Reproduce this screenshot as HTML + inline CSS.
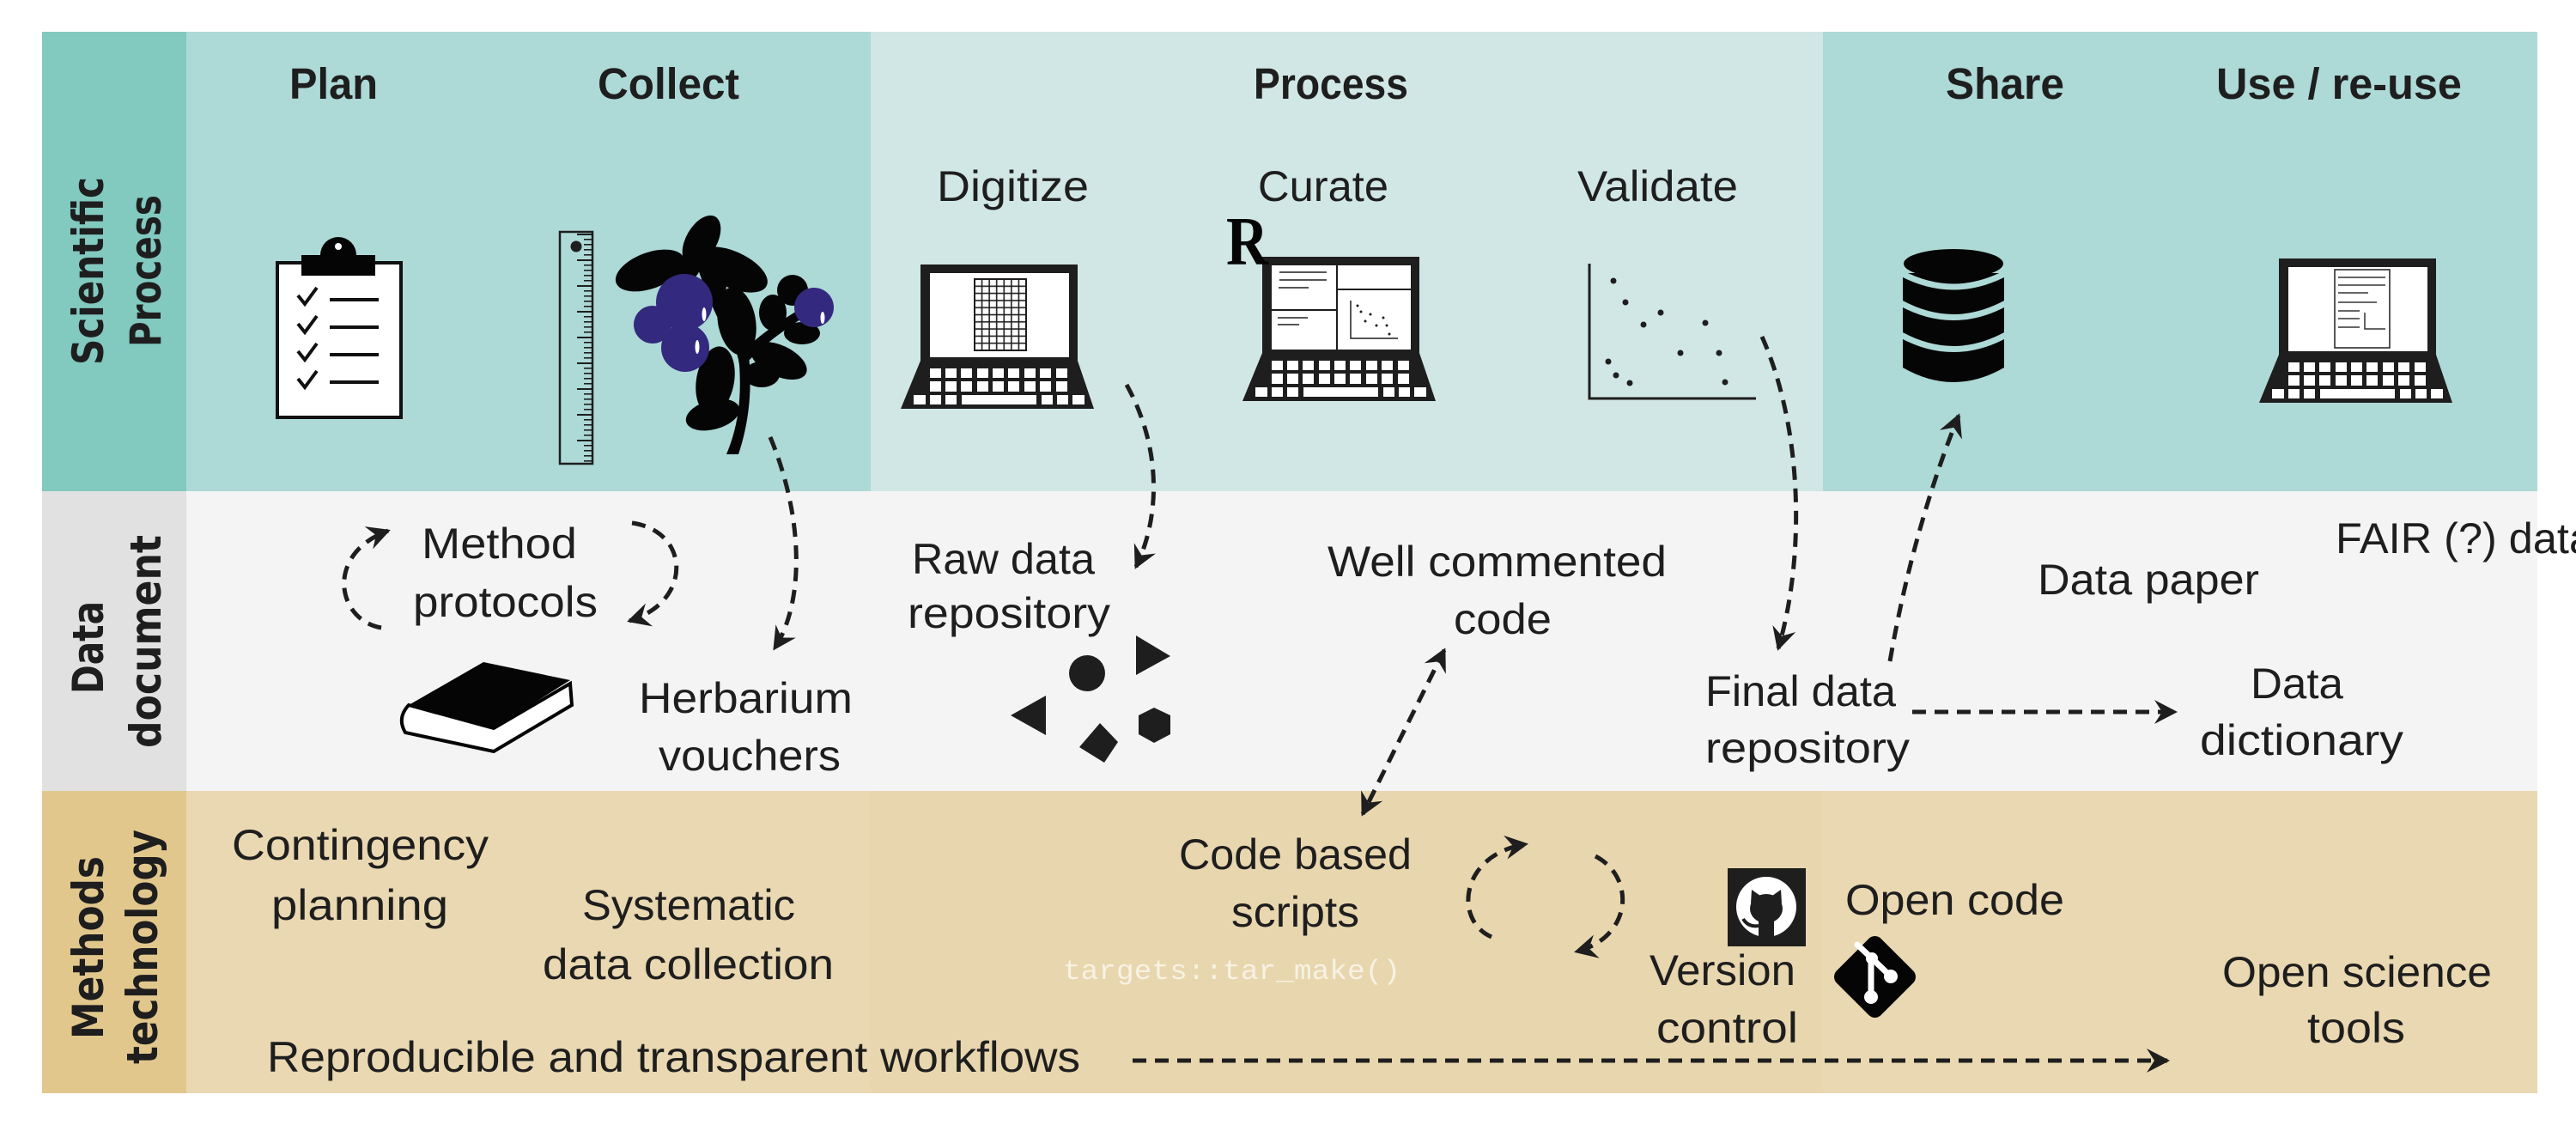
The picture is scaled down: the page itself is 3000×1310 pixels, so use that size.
<!DOCTYPE html>
<html><head><meta charset="utf-8"><style>
html,body{margin:0;padding:0;background:#fff;}
svg{display:block;}
text{font-family:"Liberation Sans",sans-serif;fill:#1e1e1e;}
.h{font-weight:bold;font-size:51px;}
.t{font-size:50px;}
.s{font-size:50px;}
.lab{font-family:"DejaVu Sans","Liberation Sans",sans-serif;font-weight:bold;font-size:50px;}
.d{fill:none;stroke:#1e1e1e;stroke-width:5;stroke-dasharray:16 10;}
</style></head><body>
<svg width="3000" height="1310" viewBox="0 0 3000 1310" xmlns="http://www.w3.org/2000/svg">
<defs>
<marker id="ah" viewBox="-26 -16 30 32" refX="0" refY="0" markerWidth="30" markerHeight="32" markerUnits="userSpaceOnUse" orient="auto-start-reverse">
<path d="M3,0 L-24,-14 L-15,0 L-24,14 Z" fill="#1e1e1e"/>
</marker>
<g id="lap">
<rect x="23" y="0" width="183" height="117" fill="#1e1e1e"/>
<polygon points="23,112 206,112 225,168 0,168" fill="#1e1e1e"/>
<rect x="34" y="10" width="162" height="98" fill="#fff"/>
<g fill="#fff">
<rect x="34" y="121" width="13" height="11"/><rect x="52" y="121" width="13" height="11"/><rect x="70" y="121" width="13" height="11"/><rect x="89" y="121" width="13" height="11"/><rect x="107" y="121" width="13" height="11"/><rect x="125" y="121" width="13" height="11"/><rect x="144" y="121" width="13" height="11"/><rect x="162" y="121" width="13" height="11"/><rect x="181" y="121" width="13" height="11"/>
<rect x="34" y="136" width="13" height="12"/><rect x="52" y="136" width="13" height="12"/><rect x="70" y="136" width="13" height="12"/><rect x="89" y="136" width="13" height="12"/><rect x="107" y="136" width="13" height="12"/><rect x="125" y="136" width="13" height="12"/><rect x="144" y="136" width="13" height="12"/><rect x="162" y="136" width="13" height="12"/><rect x="181" y="136" width="13" height="12"/>
<rect x="15" y="152" width="14" height="11"/><rect x="34" y="152" width="13" height="11"/><rect x="52" y="152" width="13" height="11"/><rect x="71" y="152" width="87" height="11"/><rect x="164" y="152" width="13" height="11"/><rect x="182" y="152" width="13" height="11"/><rect x="200" y="152" width="14" height="11"/>
</g>
</g>
<pattern id="grid" x="1135" y="325" width="8.57" height="8.3" patternUnits="userSpaceOnUse">
<rect x="0" y="0" width="8.57" height="8.3" fill="#fff" stroke="#1e1e1e" stroke-width="1.6"/>
</pattern>
<pattern id="tick" x="0" y="272" width="40" height="6" patternUnits="userSpaceOnUse">
<rect x="30" y="0" width="10" height="1.6" fill="#1e1e1e"/>
</pattern>
<pattern id="tick5" x="0" y="272" width="40" height="30" patternUnits="userSpaceOnUse">
<rect x="22" y="0" width="18" height="2" fill="#1e1e1e"/>
</pattern>
</defs>

<rect x="49" y="37" width="168" height="535" fill="#82c9c0"/>
<rect x="217" y="37" width="797" height="535" fill="#add9d6"/>
<rect x="1014" y="37" width="1109" height="535" fill="#d1e7e5"/>
<rect x="2123" y="37" width="832" height="535" fill="#add9d6"/>
<rect x="49" y="572" width="168" height="349" fill="#e1e1e1"/>
<rect x="217" y="572" width="2738" height="349" fill="#f4f4f4"/>
<rect x="49" y="921" width="168" height="352" fill="#e2c78d"/>
<rect x="217" y="921" width="797" height="352" fill="#e9d8b1"/>
<rect x="1014" y="921" width="1109" height="352" fill="#e8d6ae"/>
<rect x="2123" y="921" width="832" height="352" fill="#e9d8b1"/>

<text class="lab" transform="translate(120,425) rotate(-90)" textLength="219" lengthAdjust="spacingAndGlyphs">Scientific</text>
<text class="lab" transform="translate(187,404) rotate(-90)" textLength="177" lengthAdjust="spacingAndGlyphs">Process</text>
<text class="lab" transform="translate(120,808) rotate(-90)" textLength="108" lengthAdjust="spacingAndGlyphs">Data</text>
<text class="lab" transform="translate(187,871) rotate(-90)" textLength="248" lengthAdjust="spacingAndGlyphs">document</text>
<text class="lab" transform="translate(120,1210) rotate(-90)" textLength="213" lengthAdjust="spacingAndGlyphs">Methods</text>
<text class="lab" transform="translate(183,1239) rotate(-90)" textLength="273" lengthAdjust="spacingAndGlyphs">technology</text>

<text class="h" x="337" y="115" textLength="103" lengthAdjust="spacingAndGlyphs">Plan</text>
<text class="h" x="696" y="115" textLength="165" lengthAdjust="spacingAndGlyphs">Collect</text>
<text class="h" x="1460" y="115" textLength="180" lengthAdjust="spacingAndGlyphs">Process</text>
<text class="h" x="2266" y="115" textLength="138" lengthAdjust="spacingAndGlyphs">Share</text>
<text class="h" x="2581" y="115" textLength="286" lengthAdjust="spacingAndGlyphs">Use / re-use</text>
<text class="s" x="1091" y="234" textLength="177" lengthAdjust="spacingAndGlyphs">Digitize</text>
<text class="s" x="1465" y="234" textLength="152" lengthAdjust="spacingAndGlyphs">Curate</text>
<text class="s" x="1837" y="234" textLength="187" lengthAdjust="spacingAndGlyphs">Validate</text>

<rect x="323" y="306" width="144" height="180" fill="#fff" stroke="#111" stroke-width="4"/>
<circle cx="394" cy="297" r="21" fill="#050505"/>
<rect x="351" y="297" width="86" height="24" fill="#050505"/>
<circle cx="394" cy="287" r="4" fill="#fff"/>
<g fill="none" stroke="#111" stroke-width="4">
<polyline points="347,344 355,354 369,335"/><polyline points="347,377 355,387 369,368"/><polyline points="347,409 355,419 369,400"/><polyline points="347,441 355,451 369,432"/>
<line x1="384" y1="349" x2="441" y2="349"/><line x1="384" y1="381" x2="441" y2="381"/><line x1="384" y1="413" x2="441" y2="413"/><line x1="384" y1="445" x2="441" y2="445"/>
</g>

<rect x="652" y="270" width="38" height="270" fill="#add9d6" stroke="#1e1e1e" stroke-width="2.5"/>
<g transform="translate(650,0)"><rect x="0" y="272" width="40" height="266" fill="url(#tick)"/><rect x="0" y="272" width="40" height="266" fill="url(#tick5)"/></g>
<circle cx="671" cy="287" r="6.5" fill="#1e1e1e"/>

<g fill="#050505">
<path d="M846,529 C858,500 864,470 861,425 C858,400 843,387 832,362 C820,337 813,312 804,288 L814,284 C824,308 832,330 843,353 C854,376 872,398 873,425 C876,470 868,505 860,529 Z"/>
<path d="M864,410 C880,395 895,382 930,361 L935,370 C905,390 887,404 872,420 Z"/>
<ellipse cx="817" cy="280" rx="18" ry="32" transform="rotate(30 817 280)"/>
<ellipse cx="757" cy="315" rx="42" ry="21" transform="rotate(-20 757 315)"/>
<ellipse cx="791" cy="318" rx="24" ry="13" transform="rotate(-15 791 318)"/>
<ellipse cx="853" cy="314" rx="44" ry="21" transform="rotate(25 853 314)"/>
<ellipse cx="858" cy="374" rx="22" ry="40" transform="rotate(-10 858 374)"/>
<ellipse cx="833" cy="332" rx="13" ry="17"/>
<ellipse cx="923" cy="338" rx="18" ry="18"/>
<ellipse cx="900" cy="364" rx="16" ry="21"/>
<ellipse cx="934" cy="388" rx="21" ry="13"/>
<ellipse cx="907" cy="420" rx="35" ry="18" transform="rotate(25 907 420)"/>
<ellipse cx="887" cy="436" rx="21" ry="15"/>
<ellipse cx="833" cy="443" rx="22" ry="40" transform="rotate(10 833 443)"/>
<ellipse cx="830" cy="483" rx="32" ry="17" transform="rotate(-15 830 483)"/>
</g>
<g fill="#33297f">
<circle cx="797" cy="352" r="33"/><circle cx="760" cy="378" r="22"/><circle cx="798" cy="405" r="28"/><circle cx="948" cy="358" r="23"/>
</g>
<g fill="#fff"><ellipse cx="820" cy="366" rx="2.5" ry="8"/><ellipse cx="812" cy="404" rx="2.5" ry="8"/><ellipse cx="958" cy="370" rx="2.5" ry="7"/></g>

<use href="#lap" transform="translate(1049,308)"/>
<rect x="1135" y="325" width="60" height="83" fill="url(#grid)" stroke="#1e1e1e" stroke-width="2"/>
<use href="#lap" transform="translate(1447,299)"/>
<g stroke="#1e1e1e" fill="none">
<line x1="1557" y1="308" x2="1557" y2="407" stroke-width="2"/>
<line x1="1481" y1="361" x2="1557" y2="361" stroke-width="2"/>
<line x1="1557" y1="337" x2="1643" y2="337" stroke-width="2"/>
<line x1="1490" y1="317" x2="1545" y2="317" stroke-width="1.5"/><line x1="1490" y1="326" x2="1545" y2="326" stroke-width="1.5"/><line x1="1489" y1="335" x2="1524" y2="335" stroke-width="1.5"/>
<line x1="1488" y1="370" x2="1523" y2="370" stroke-width="1.5"/><line x1="1488" y1="378" x2="1513" y2="378" stroke-width="1.5"/>
<polyline points="1573,350 1573,394 1628,394" stroke-width="1.5"/>
</g>
<g fill="#1e1e1e"><circle cx="1581" cy="356" r="1.5"/><circle cx="1585" cy="363" r="1.5"/><circle cx="1596" cy="366" r="1.5"/><circle cx="1590" cy="374" r="1.5"/><circle cx="1611" cy="370" r="1.5"/><circle cx="1603" cy="379" r="1.5"/><circle cx="1615" cy="379" r="1.5"/><circle cx="1618" cy="389" r="1.5"/></g>
<text x="1428" y="308" style="font-family:'Liberation Serif',serif;font-weight:bold;font-size:80px;fill:#050505" textLength="49" lengthAdjust="spacingAndGlyphs">R</text>
<use href="#lap" transform="translate(2631,301)"/>
<rect x="2719" y="314" width="64" height="91" fill="#fff" stroke="#1e1e1e" stroke-width="1.5"/>
<g stroke="#333" stroke-width="1.5">
<line x1="2723" y1="323" x2="2778" y2="323"/><line x1="2723" y1="332" x2="2778" y2="332"/><line x1="2723" y1="341" x2="2758" y2="341"/><line x1="2723" y1="352" x2="2768" y2="352"/><line x1="2723" y1="362" x2="2748" y2="362"/><line x1="2723" y1="371" x2="2748" y2="371"/><line x1="2723" y1="381" x2="2748" y2="381"/>
<polyline points="2754,364 2754,383 2778,383" fill="none"/>
</g>

<polyline points="1851,307 1851,464 2045,464" fill="none" stroke="#1e1e1e" stroke-width="3"/>
<g fill="#1e1e1e">
<circle cx="1879" cy="327" r="3.5"/><circle cx="1893" cy="352" r="3.5"/><circle cx="1934" cy="364" r="3.5"/><circle cx="1914" cy="378" r="3.5"/><circle cx="1986" cy="376" r="3.5"/><circle cx="1957" cy="411" r="3.5"/><circle cx="2002" cy="411" r="3.5"/><circle cx="1873" cy="421" r="3.5"/><circle cx="1882" cy="437" r="3.5"/><circle cx="1898" cy="446" r="3.5"/><circle cx="2009" cy="445" r="3.5"/>
</g>

<g fill="#050505">
<path d="M2216,318 L2216,428 Q2275,462 2334,428 L2334,318 Z"/>
<ellipse cx="2275" cy="307" rx="58" ry="17"/>
</g>
<g fill="none" stroke="#add9d6" stroke-width="7">
<path d="M2214,318 Q2275,350 2336,318"/>
<path d="M2214,353 Q2275,386 2336,353"/>
<path d="M2214,390 Q2275,423 2336,390"/>
</g>

<text class="t" x="491" y="650" textLength="181" lengthAdjust="spacingAndGlyphs">Method</text>
<text class="t" x="481" y="718" textLength="215" lengthAdjust="spacingAndGlyphs">protocols</text>
<text class="t" x="744" y="830" textLength="249" lengthAdjust="spacingAndGlyphs">Herbarium</text>
<text class="t" x="767" y="897" textLength="212" lengthAdjust="spacingAndGlyphs">vouchers</text>
<text class="t" x="1062" y="668" textLength="213" lengthAdjust="spacingAndGlyphs">Raw data</text>
<text class="t" x="1057" y="731" textLength="236" lengthAdjust="spacingAndGlyphs">repository</text>
<text class="t" x="1546" y="671" textLength="395" lengthAdjust="spacingAndGlyphs">Well commented</text>
<text class="t" x="1693" y="738" textLength="114" lengthAdjust="spacingAndGlyphs">code</text>
<text class="t" x="1986" y="822" textLength="222" lengthAdjust="spacingAndGlyphs">Final data</text>
<text class="t" x="1986" y="888" textLength="238" lengthAdjust="spacingAndGlyphs">repository</text>
<text class="t" x="2373" y="692" textLength="258" lengthAdjust="spacingAndGlyphs">Data paper</text>
<text class="t" x="2720" y="644" textLength="300" lengthAdjust="spacingAndGlyphs">FAIR (?) data</text>
<text class="t" x="2621" y="813" textLength="108" lengthAdjust="spacingAndGlyphs">Data</text>
<text class="t" x="2562" y="879" textLength="237" lengthAdjust="spacingAndGlyphs">dictionary</text>

<path d="M476,821 L575,848 L664,796 L666,821 L575,875 L472,853 Q462,836 476,821 Z" fill="#fff" stroke="#050505" stroke-width="4"/>
<path d="M563,771 L664,792 L575,848 L476,821 Z" fill="#050505"/>

<g fill="#1e1e1e">
<ellipse cx="1266" cy="784" rx="21" ry="21"/>
<polygon points="1323,740 1363,764 1323,786"/>
<polygon points="1177,833 1218,810 1218,856"/>
<polygon points="1281,842 1302,864 1286,888 1257,870"/>
<polygon points="1344,824 1363,833 1363,855 1344,865 1326,855 1326,833"/>
</g>

<text class="t" x="270" y="1001" textLength="299" lengthAdjust="spacingAndGlyphs">Contingency</text>
<text class="t" x="316" y="1071" textLength="206" lengthAdjust="spacingAndGlyphs">planning</text>
<text class="t" x="678" y="1071" textLength="248" lengthAdjust="spacingAndGlyphs">Systematic</text>
<text class="t" x="632" y="1140" textLength="339" lengthAdjust="spacingAndGlyphs">data collection</text>
<text class="t" x="311" y="1248" textLength="947" lengthAdjust="spacingAndGlyphs">Reproducible and transparent workflows</text>
<text class="t" x="1373" y="1012" textLength="271" lengthAdjust="spacingAndGlyphs">Code based</text>
<text class="t" x="1434" y="1079" textLength="149" lengthAdjust="spacingAndGlyphs">scripts</text>
<text x="1238" y="1140" style="fill:#f7f2e4;font-family:'Liberation Mono',monospace;font-size:32px" textLength="393" lengthAdjust="spacingAndGlyphs">targets::tar_make()</text>
<text class="t" x="2149" y="1065" textLength="255" lengthAdjust="spacingAndGlyphs">Open code</text>
<text class="t" x="1921" y="1147" textLength="170" lengthAdjust="spacingAndGlyphs">Version</text>
<text class="t" x="1929" y="1214" textLength="165" lengthAdjust="spacingAndGlyphs">control</text>
<text class="t" x="2588" y="1149" textLength="314" lengthAdjust="spacingAndGlyphs">Open science</text>
<text class="t" x="2687" y="1214" textLength="114" lengthAdjust="spacingAndGlyphs">tools</text>

<rect x="2012" y="1011" width="91" height="91" fill="#1e1e1e"/>
<circle cx="2057" cy="1056" r="35" fill="#fff"/>
<g fill="#1e1e1e">
<ellipse cx="2057" cy="1058" rx="19" ry="17"/>
<polygon points="2039,1052 2040,1036 2050,1043"/>
<polygon points="2075,1052 2074,1036 2064,1043"/>
<rect x="2048" y="1068" width="18" height="24"/>
<path d="M2048,1078 Q2036,1080 2030,1070" stroke="#1e1e1e" stroke-width="4" fill="none"/>
</g>

<rect x="2147" y="1101" width="73" height="73" rx="10" fill="#050505" transform="rotate(45 2183.5 1137.5)"/>
<g stroke="#fff" stroke-width="7" fill="none" stroke-linecap="round">
<line x1="2163" y1="1100" x2="2180" y2="1116"/>
<line x1="2180" y1="1116" x2="2202" y2="1137"/>
<line x1="2179" y1="1116" x2="2179" y2="1161"/>
</g>
<g fill="#fff"><circle cx="2180" cy="1116" r="7"/><circle cx="2202" cy="1137" r="8"/><circle cx="2179" cy="1161" r="8"/></g>

<path class="d" d="M444,731 C392,722 378,645 452,618" marker-end="url(#ah)"/>
<path class="d" d="M736,609 C803,618 808,700 733,723" marker-end="url(#ah)"/>
<path class="d" d="M897,509 C935,600 938,700 902,755" marker-end="url(#ah)"/>
<path class="d" d="M1312,448 C1352,520 1352,600 1323,660" marker-end="url(#ah)"/>
<path class="d" d="M2052,392 C2100,500 2102,650 2071,755" marker-end="url(#ah)"/>
<path class="d" d="M2201,770 C2220,660 2250,560 2281,484" marker-end="url(#ah)"/>
<path class="d" d="M1682,757 L1587,948" marker-start="url(#ah)" marker-end="url(#ah)"/>
<path class="d" d="M2227,829 L2533,829" stroke-width="6" marker-end="url(#ah)"/>
<path class="d" d="M1319,1235 L2524,1235" stroke-width="6" marker-end="url(#ah)"/>
<path class="d" d="M1737,1091 C1693,1072 1700,995 1777,983" marker-end="url(#ah)"/>
<path class="d" d="M1858,997 C1906,1022 1900,1092 1836,1108" marker-end="url(#ah)"/>
</svg>
</body></html>
